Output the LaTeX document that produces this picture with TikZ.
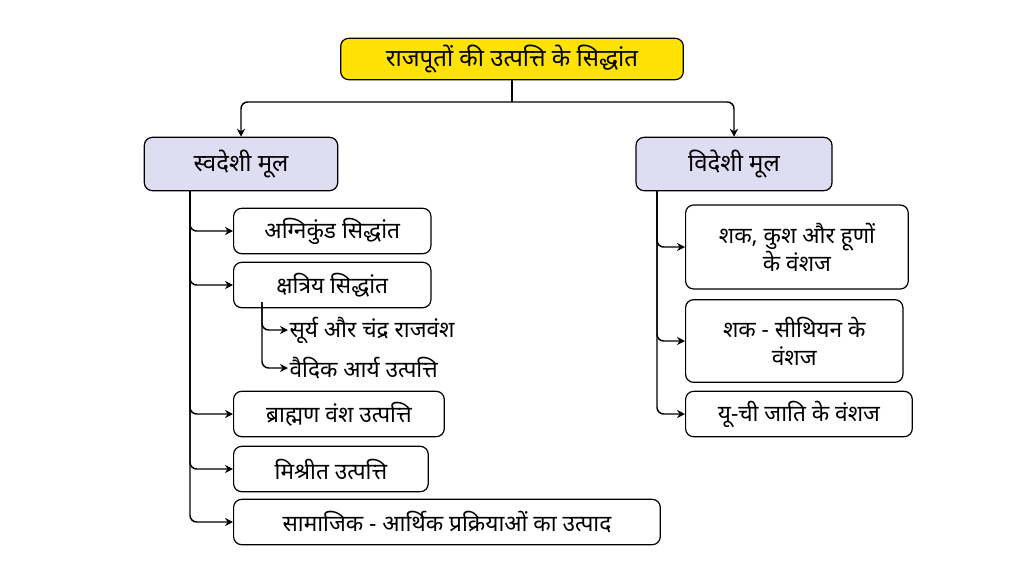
\documentclass[tikz,border=0pt]{standalone}
\usepackage{fontspec}
\newfontfamily\deva[Script=Devanagari]{Noto Sans}
\usetikzlibrary{positioning,arrows.meta}
\tikzset{
  box/.style={draw=black,rounded corners=6pt,line width=0.9pt,fill=white,inner sep=0pt,font=\deva\fontsize{17}{21}\selectfont,align=center},
  head/.style={box,fill=cyan!15!blue!12,font=\deva\bfseries\fontsize{18}{22}\selectfont},
  plain/.style={font=\deva\fontsize{17}{21}\selectfont,anchor=west,inner sep=1pt},
  link/.style={-{Stealth[length=6pt,width=6pt]},line width=1.1pt,rounded corners=5pt}
}
\begin{document}
\begin{tikzpicture}[x=0.75pt,y=-0.75pt]
\useasboundingbox[fill=white] (0,0) rectangle (1024,576);
% top
\node[box,fill=yellow!85!orange,font=\deva\bfseries\fontsize{18}{22}\selectfont,minimum width=257pt,minimum height=31pt] (root) at (512,59) {राजपूतों की उत्पत्ति के सिद्धांत};
\node[head,minimum width=145pt,minimum height=40pt] (sw) at (241,164) {स्वदेशी मूल};
\node[head,minimum width=147pt,minimum height=40pt] (vi) at (734,164) {विदेशी मूल};
\coordinate (fork) at (512,102);
\draw[line width=1.1pt] (root.south) -- (fork);
\draw[link] (fork) -| (sw.north);
\draw[link] (fork) -| (vi.north);
% left branch
\node[box,anchor=west,minimum width=148pt,minimum height=34pt] (agni) at (233,231) {अग्निकुंड सिद्धांत};
\node[box,anchor=west,minimum width=148pt,minimum height=34pt] (ksh) at (233,285) {क्षत्रिय सिद्धांत};
\node[plain] (surya) at (288,330) {सूर्य और चंद्र राजवंश};
\node[plain] (vaid) at (288,368) {वैदिक आर्य उत्पत्ति};
\node[box,anchor=west,minimum width=158pt,minimum height=34pt] (brah) at (233,414) {ब्राह्मण वंश उत्पत्ति};
\node[box,anchor=west,minimum width=146pt,minimum height=34pt] (mish) at (233,469) {मिश्रीत उत्पत्ति};
\node[box,anchor=west,minimum width=320pt,minimum height=34pt] (sama) at (233,522) {सामाजिक - आर्थिक प्रक्रियाओं का उत्पाद};
\coordinate (ls) at (190,190);
\coordinate (ks) at (262,302);
\foreach \n in {agni,ksh,brah,mish,sama}
  \draw[link] (ls) |- (\n.west);
\foreach \n in {surya,vaid}
  \draw[link] (ks) |- (\n.west);
% right branch
\node[box,anchor=west,minimum width=167pt,minimum height=63pt] (shak) at (685,247) {शक, कुश और हूणों\\के वंशज};
\node[box,anchor=west,minimum width=163pt,minimum height=62pt] (sith) at (685,341) {शक - सीथियन के\\वंशज};
\node[box,anchor=west,minimum width=170pt,minimum height=34pt] (yuchi) at (685,414) {यू-ची जाति के वंशज};
\coordinate (rs) at (657,190);
\foreach \n in {shak,sith,yuchi}
  \draw[link] (rs) |- (\n.west);
\end{tikzpicture}
\end{document}
